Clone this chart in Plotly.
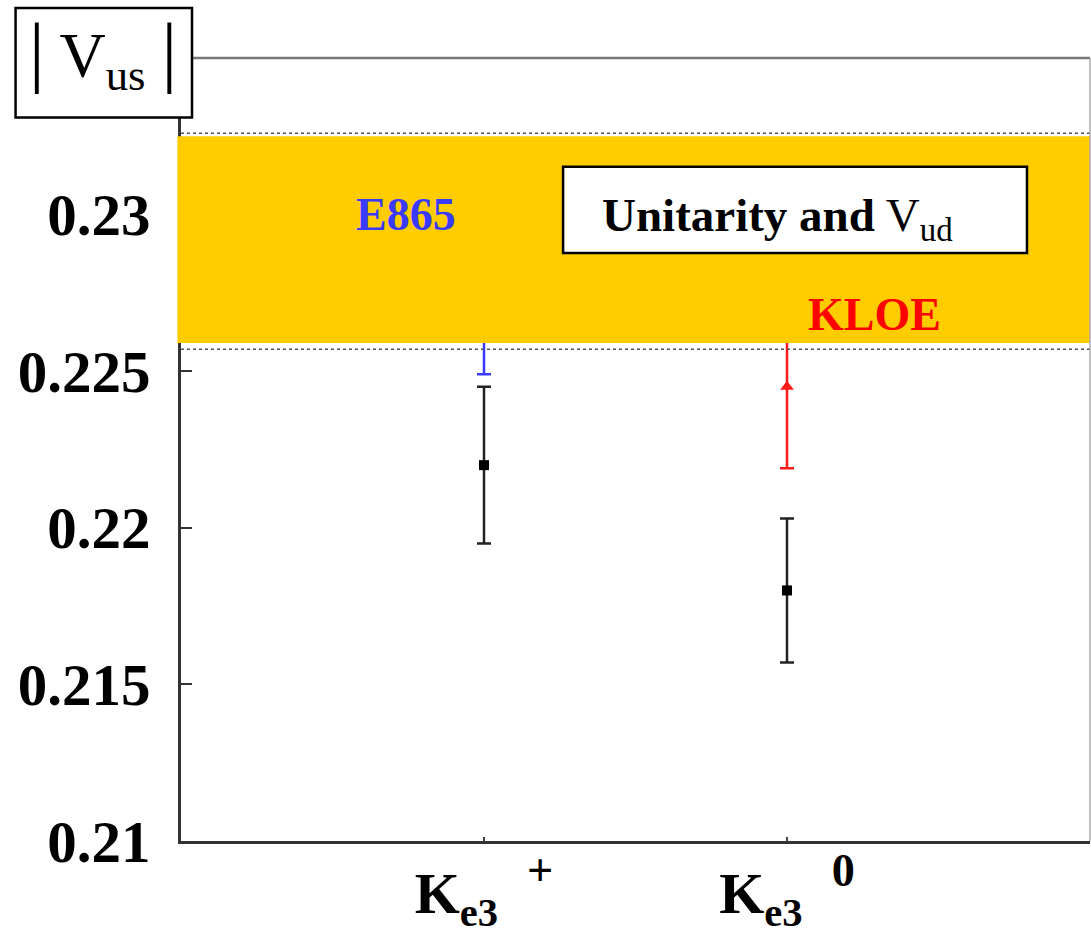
import plotly.graph_objects as go

# |Vus| determinations
categories = [1, 2]
cat_labels = [
    "<b>K<sub>e3</sub></b>  <span style='font-size:66px'><sup><b>+</b></sup></span>",
    "<b>K<sub>e3</sub></b>  <span style='font-size:66px'><sup><b>0</b></sup></span>",
]

pdg_vus = [0.2220, 0.2180]
pdg_err = [0.0025, 0.0023]

e865_x = [1]
e865_vus = [0.2272]
e865_err = [0.0023]

kloe_x = [2]
kloe_vus = [0.2245]
kloe_err = [0.0026]

# unitarity band from Vud
band_lo = 0.2257
band_hi = 0.2326

ytick_vals = [0.21, 0.215, 0.22, 0.225, 0.23]
ytick_text = ["0.21", "0.215", "0.22", "0.225", "0.23"]

SERIF = "Liberation Serif, Times New Roman, serif"

fig = go.Figure()

fig.add_trace(go.Scatter(
    x=e865_x, y=e865_vus, mode="markers",
    marker=dict(symbol="square", size=10, color="#3a3aff"),
    error_y=dict(type="data", array=e865_err, color="#3a3aff", thickness=2.5, width=7),
    showlegend=False))

fig.add_trace(go.Scatter(
    x=kloe_x, y=kloe_vus, mode="markers",
    marker=dict(symbol="triangle-up", size=12, color="#ff1a1a"),
    error_y=dict(type="data", array=kloe_err, color="#ff1a1a", thickness=2.5, width=7),
    showlegend=False))

fig.add_trace(go.Scatter(
    x=categories, y=pdg_vus, mode="markers",
    marker=dict(symbol="square", size=10, color="black"),
    error_y=dict(type="data", array=pdg_err, color="#222222", thickness=2.5, width=7),
    showlegend=False))

shapes = [
    # unitarity band
    dict(type="rect", xref="paper", yref="y", x0=-0.004, x1=1.0,
         y0=band_lo + 0.0002, y1=band_hi - 0.0001,
         fillcolor="#ffcc00", line=dict(width=0), layer="above"),
    dict(type="line", xref="paper", yref="y", x0=0, x1=1, y0=band_lo, y1=band_lo,
         line=dict(color="#555555", width=1.5, dash="dot"), layer="above"),
    dict(type="line", xref="paper", yref="y", x0=0, x1=1, y0=band_hi, y1=band_hi,
         line=dict(color="#555555", width=1.5, dash="dot"), layer="above"),
    # upper and right frame
    dict(type="line", xref="paper", yref="paper", x0=0, x1=1, y0=1, y1=1,
         line=dict(color="#777777", width=2.5), layer="above"),
    dict(type="line", xref="paper", yref="paper", x0=1, x1=1, y0=0, y1=1,
         line=dict(color="#aaaaaa", width=1.5), layer="above"),
    # label boxes
    dict(type="rect", xref="x", yref="y", x0=1.261, x1=2.792, y0=0.22877, y1=0.23153,
         fillcolor="white", line=dict(color="black", width=2.5), layer="above"),
    dict(type="rect", xref="paper", yref="paper", x0=-0.182, x1=0.0121, y0=0.924, y1=1.064,
         fillcolor="white", line=dict(color="black", width=2.5), layer="above"),
]

BAR = "<span style='font-size:78px'>|</span>"

annotations = [
    dict(xref="x", yref="y", x=0.743, y=0.2300, text="<b>E865</b>", showarrow=False,
         font=dict(family=SERIF, size=46, color="#3a3aff"), xanchor="center", yanchor="middle"),
    dict(xref="x", yref="y", x=2.29, y=0.2268, text="<b>KLOE</b>", showarrow=False,
         font=dict(family=SERIF, size=46, color="#ff0000"), xanchor="center", yanchor="middle"),
    dict(xref="x", yref="y", x=1.969, y=0.22989,
         text="<b>Unitarity and</b> V<sub>ud</sub>", showarrow=False,
         font=dict(family=SERIF, size=47, color="black"), xanchor="center", yanchor="middle"),
    dict(xref="paper", yref="paper", x=-0.086, y=1.006,
         text=BAR + " V<sub>us</sub> " + BAR, showarrow=False,
         font=dict(family=SERIF, size=64, color="black"), xanchor="center", yanchor="middle"),
]

fig.update_layout(
    width=1091, height=935,
    margin=dict(l=181, r=1, t=58, b=94),
    paper_bgcolor="white", plot_bgcolor="white",
    shapes=shapes, annotations=annotations,
    xaxis=dict(range=[0, 3], tickvals=categories, ticktext=cat_labels,
               ticks="inside", ticklen=4, tickwidth=2, tickcolor="#444444",
               showline=True, linecolor="#333333", linewidth=2.5,
               showgrid=False, zeroline=False,
               tickfont=dict(family=SERIF, size=58, color="black")),
    yaxis=dict(range=[0.21, 0.235], tickvals=ytick_vals, ticktext=[f"<b>{t}</b>" for t in ytick_text],
               ticks="inside", ticklen=11, tickwidth=2, tickcolor="#333333",
               showline=True, linecolor="#333333", linewidth=2.5,
               showgrid=False, zeroline=False, ticklabelstandoff=16,
               tickfont=dict(family=SERIF, size=59, color="black")),
)

fig.write_html("out.html")
